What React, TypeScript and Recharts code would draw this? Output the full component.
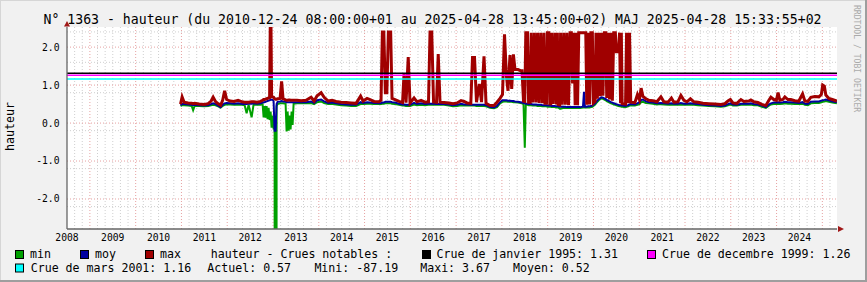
import React from 'react';
import { LineChart, Line, XAxis, YAxis, CartesianGrid, ReferenceLine } from 'recharts';

const FONT = '"DejaVu Sans Mono", "Liberation Mono", monospace';

// decimal years
const dates = [
  2010.980, 2011.015, 2011.059, 2011.146, 2011.223, 2011.255, 2011.288, 2011.386,
  2011.496, 2011.583, 2011.648, 2011.692, 2011.747, 2011.801, 2011.856, 2011.900,
  2011.943, 2011.987, 2012.063, 2012.151, 2012.238, 2012.325, 2012.380, 2012.424,
  2012.467, 2012.533, 2012.576, 2012.653, 2012.729, 2012.773, 2012.795, 2012.817,
  2012.838, 2012.860, 2012.882, 2012.904, 2012.926, 2012.948, 2012.969, 2012.991,
  2013.013, 2013.035, 2013.057, 2013.079, 2013.100, 2013.155, 2013.188, 2013.220,
  2013.275, 2013.297, 2013.319, 2013.341, 2013.362, 2013.384, 2013.406, 2013.428,
  2013.450, 2013.526, 2013.614, 2013.723, 2013.832, 2013.898, 2013.963, 2014.051,
  2014.117, 2014.204, 2014.291, 2014.378, 2014.488, 2014.597, 2014.706, 2014.815,
  2014.913, 2014.967, 2015.055, 2015.120, 2015.208, 2015.317, 2015.360, 2015.389,
  2015.421, 2015.454, 2015.487, 2015.520, 2015.570, 2015.600, 2015.666, 2015.753,
  2015.830, 2015.862, 2015.906, 2015.954, 2015.993, 2016.081, 2016.146, 2016.234,
  2016.321, 2016.397, 2016.430, 2016.467, 2016.507, 2016.572, 2016.609, 2016.648,
  2016.736, 2016.845, 2016.932, 2017.020, 2017.107, 2017.173, 2017.238, 2017.321,
  2017.358, 2017.402, 2017.445, 2017.507, 2017.555, 2017.609, 2017.653, 2017.740,
  2017.828, 2017.893, 2017.959, 2018.013, 2018.057, 2018.100, 2018.133, 2018.177,
  2018.214, 2018.251, 2018.286, 2018.352, 2018.406, 2018.439, 2018.472, 2018.500,
  2018.522, 2018.559, 2018.583, 2018.618, 2018.640, 2018.675, 2018.710, 2018.745,
  2018.779, 2018.814, 2018.849, 2018.884, 2018.919, 2018.941, 2018.974, 2018.993,
  2019.024, 2019.046, 2019.068, 2019.085, 2019.120, 2019.155, 2019.190, 2019.212,
  2019.229, 2019.264, 2019.282, 2019.317, 2019.352, 2019.387, 2019.421, 2019.456,
  2019.491, 2019.517, 2019.544, 2019.574, 2019.600, 2019.627, 2019.653, 2019.679,
  2019.710, 2019.771, 2019.793, 2019.814, 2019.832, 2019.854, 2019.884, 2019.915,
  2019.945, 2019.976, 2019.998, 2020.037, 2020.055, 2020.085, 2020.116, 2020.146,
  2020.177, 2020.207, 2020.238, 2020.269, 2020.290, 2020.321, 2020.352, 2020.382,
  2020.413, 2020.443, 2020.478, 2020.500, 2020.548, 2020.570, 2020.592, 2020.609,
  2020.627, 2020.701, 2020.723, 2020.758, 2020.788, 2020.814,
  2020.906, 2020.961, 2021.004, 2021.041, 2021.081, 2021.146, 2021.212, 2021.299,
  2021.386, 2021.474, 2021.539, 2021.627, 2021.703, 2021.758, 2021.845, 2021.910,
  2021.976, 2022.041, 2022.118, 2022.194, 2022.282, 2022.391, 2022.522, 2022.652,
  2022.784, 2022.871, 2022.937, 2022.991, 2023.046, 2023.133, 2023.221, 2023.286,
  2023.395, 2023.439, 2023.504, 2023.592, 2023.679, 2023.766, 2023.832, 2023.876,
  2023.941, 2023.996, 2024.033, 2024.072, 2024.138, 2024.181, 2024.247, 2024.312,
  2024.400, 2024.487, 2024.568, 2024.618, 2024.683, 2024.749, 2024.836, 2024.924,
  2024.978, 2025.007, 2025.044, 2025.076, 2025.142, 2025.218, 2025.317,
];

const minVals = [
  0.45, 0.47, 0.47, 0.46, 0.45, 0.34, 0.45, 0.45,
  0.44, 0.45, 0.47, 0.48, 0.47, 0.44, 0.41, 0.45,
  0.48, 0.49, 0.49, 0.48, 0.49, 0.48, 0.47, 0.26,
  0.48, 0.15, 0.49, 0.48, 0.48, 0.50, 0.15, 0.45,
  0.14, 0.45, 0.10, 0.40, 0.08, 0.30, -0.12, 0.20,
  -0.14, -0.15, -87.19, 0.45, 0.50, 0.52, 0.52, 0.52,
  0.51, -0.22, 0.30, -0.20, 0.20, -0.17, 0.30, -0.05,
  0.51, 0.52, 0.52, 0.52, 0.53, 0.50, 0.55, 0.57,
  0.53, 0.50, 0.51, 0.49, 0.47, 0.46, 0.45, 0.45,
  0.50, 0.50, 0.51, 0.51, 0.50, 0.50, 0.50, 0.51,
  0.51, 0.52, 0.52, 0.52, 0.52, 0.51, 0.50, 0.48,
  0.46, 0.46, 0.45, 0.45, 0.45, 0.49, 0.47, 0.48,
  0.47, 0.48, 0.48, 0.48, 0.48, 0.48, 0.48, 0.48,
  0.48, 0.46, 0.44, 0.45, 0.47, 0.46, 0.46, 0.46,
  0.46, 0.46, 0.45, 0.45, 0.45, 0.45, 0.44, 0.40,
  0.39, 0.42, 0.52, 0.56, 0.57, 0.57, 0.56, 0.56,
  0.56, 0.55, 0.55, 0.54, 0.53, 0.52, 0.50, -0.65,
  0.48, 0.48, 0.47, 0.47, 0.47, 0.46, 0.46, 0.46,
  0.45, 0.45, 0.45, 0.44, 0.44, 0.44, 0.44, 0.43,
  0.43, 0.43, 0.43, 0.42, 0.42, 0.42, 0.41, 0.41,
  0.41, 0.38, 0.38, 0.39, 0.40, 0.40, 0.40, 0.40,
  0.40, 0.40, 0.40, 0.40, 0.40, 0.40, 0.40, 0.40,
  0.40, 0.41, 0.41, 0.41, 0.41, 0.41, 0.41, 0.41,
  0.42, 0.43, 0.45, 0.49, 0.52, 0.56, 0.60, 0.63,
  0.65, 0.64, 0.62, 0.60, 0.58, 0.56, 0.54, 0.52,
  0.51, 0.49, 0.48, 0.47, 0.45, 0.44, 0.44, 0.43,
  0.43, 0.42, 0.43, 0.44, 0.46, 0.47,
  0.46, 0.48, 0.50, 0.55, 0.56, 0.53, 0.52, 0.51,
  0.49, 0.50, 0.49, 0.48, 0.49, 0.48, 0.48, 0.49,
  0.48, 0.48, 0.49, 0.48, 0.47, 0.46, 0.45, 0.44,
  0.43, 0.44, 0.47, 0.49, 0.46, 0.46, 0.48, 0.48,
  0.48, 0.49, 0.47, 0.47, 0.43, 0.40, 0.46, 0.49,
  0.50, 0.50, 0.51, 0.50, 0.51, 0.52, 0.51, 0.51,
  0.50, 0.50, 0.51, 0.48, 0.47, 0.52, 0.53, 0.53,
  0.55, 0.56, 0.57, 0.58, 0.56, 0.54, 0.52,
];

const moyVals = [
  0.47, 0.50, 0.50, 0.49, 0.48, 0.47, 0.48, 0.47,
  0.46, 0.47, 0.50, 0.52, 0.50, 0.46, 0.42, 0.48,
  0.52, 0.53, 0.52, 0.51, 0.52, 0.50, 0.50, 0.50,
  0.51, 0.51, 0.52, 0.51, 0.52, 0.54, 0.55, 0.55,
  0.56, 0.57, 0.58, 0.59, 0.60, 0.61, 0.62, 0.61,
  0.58, -0.20, -0.20, 0.50, 0.56, 0.57, 0.58, 0.57,
  0.56, 0.55, 0.55, 0.55, 0.55, 0.55, 0.55, 0.55,
  0.55, 0.55, 0.55, 0.55, 0.57, 0.53, 0.60, 0.62,
  0.57, 0.53, 0.54, 0.52, 0.50, 0.49, 0.48, 0.48,
  0.55, 0.53, 0.55, 0.54, 0.53, 0.52, 0.53, 0.54,
  0.54, 0.56, 0.56, 0.56, 0.56, 0.55, 0.54, 0.51,
  0.49, 0.49, 0.48, 0.48, 0.48, 0.53, 0.50, 0.52,
  0.50, 0.51, 0.51, 0.51, 0.51, 0.50, 0.50, 0.50,
  0.50, 0.49, 0.47, 0.48, 0.51, 0.49, 0.49, 0.48,
  0.48, 0.48, 0.48, 0.48, 0.48, 0.48, 0.47, 0.42,
  0.41, 0.45, 0.55, 0.60, 0.60, 0.60, 0.59, 0.59,
  0.58, 0.58, 0.57, 0.56, 0.55, 0.54, 0.53, 0.52,
  0.51, 0.51, 0.50, 0.50, 0.50, 0.49, 0.49, 0.49,
  0.48, 0.48, 0.48, 0.47, 0.47, 0.47, 0.47, 0.46,
  0.46, 0.46, 0.46, 0.45, 0.45, 0.45, 0.44, 0.44,
  0.44, 0.43, 0.43, 0.43, 0.43, 0.43, 0.42, 0.42,
  0.42, 0.42, 0.42, 0.42, 0.42, 0.42, 0.42, 0.42,
  0.42, 0.43, 0.82, 0.43, 0.43, 0.43, 0.44, 0.44,
  0.45, 0.46, 0.48, 0.52, 0.55, 0.59, 0.63, 0.66,
  0.68, 0.67, 0.65, 0.63, 0.61, 0.59, 0.57, 0.55,
  0.54, 0.52, 0.51, 0.50, 0.48, 0.47, 0.47, 0.46,
  0.46, 0.45, 0.46, 0.47, 0.49, 0.50,
  0.49, 0.52, 0.55, 0.61, 0.62, 0.57, 0.55, 0.54,
  0.52, 0.53, 0.52, 0.51, 0.52, 0.51, 0.51, 0.53,
  0.51, 0.51, 0.52, 0.51, 0.50, 0.48, 0.47, 0.46,
  0.45, 0.46, 0.50, 0.52, 0.49, 0.48, 0.51, 0.51,
  0.51, 0.52, 0.50, 0.49, 0.46, 0.42, 0.49, 0.52,
  0.54, 0.54, 0.55, 0.54, 0.55, 0.56, 0.55, 0.55,
  0.54, 0.53, 0.55, 0.51, 0.50, 0.56, 0.57, 0.57,
  0.59, 0.60, 0.61, 0.62, 0.60, 0.57, 0.55,
];

const maxVals = [
  0.50, 0.69, 0.55, 0.53, 0.52, 0.51, 0.52, 0.50,
  0.49, 0.51, 0.58, 0.68, 0.56, 0.51, 0.47, 0.60,
  0.85, 0.62, 0.58, 0.57, 0.60, 0.56, 0.55, 0.55,
  0.55, 0.56, 0.56, 0.55, 0.57, 0.60, 0.62, 0.62,
  0.63, 0.64, 0.65, 0.66, 0.67, 3.67, 0.70, 0.69,
  0.68, 0.64, 0.63, 0.63, 0.64, 0.65, 1.10, 0.64,
  0.61, 0.60, 0.60, 0.61, 0.61, 0.60, 0.60, 0.60,
  0.60, 0.60, 0.59, 0.60, 0.68, 0.58, 0.72, 0.80,
  0.68, 0.58, 0.60, 0.57, 0.55, 0.54, 0.53, 0.52,
  0.71, 0.58, 0.65, 0.62, 0.57, 0.56, 0.60, 2.40,
  2.40, 0.80, 0.80, 2.40, 2.40, 0.65, 0.62, 0.57,
  0.54, 1.30, 0.54, 1.74, 0.53, 0.66, 0.56, 0.60,
  0.55, 0.56, 2.40, 2.40, 0.56, 0.55, 1.82, 0.55,
  0.54, 0.53, 0.51, 0.53, 0.59, 0.57, 0.53, 0.52,
  1.73, 1.73, 0.55, 1.03, 0.55, 1.76, 0.52, 0.46,
  0.46, 0.55, 0.65, 0.75, 2.34, 1.22, 0.85, 1.79,
  0.90, 1.81, 1.41, 1.41, 1.38, 1.38, 0.58, 0.57,
  2.38, 2.38, 0.55, 0.55, 2.38, 0.54, 2.38, 0.54,
  2.38, 0.53, 2.38, 0.52, 2.38, 0.52, 0.52, 2.38,
  2.38, 0.51, 0.51, 2.38, 0.50, 2.38, 0.49, 2.38,
  0.49, 0.48, 2.38, 0.48, 2.38, 0.48, 2.38, 0.47,
  2.38, 2.38, 1.04, 2.38, 0.47, 2.38, 0.47, 2.38,
  2.38, 2.38, 2.38, 2.38, 2.38, 0.48, 2.38, 0.49,
  2.38, 2.38, 0.53, 0.57, 2.38, 0.64, 2.38, 0.71,
  2.38, 0.72, 2.38, 2.38, 0.66, 2.38, 0.62, 2.38,
  0.59, 2.38, 2.38, 1.88, 1.88, 2.38, 0.52, 2.38,
  0.51, 0.50, 2.38, 0.52, 2.38, 0.55,
  0.54, 0.75, 0.62, 0.92, 0.70, 0.64, 0.60, 0.59,
  0.56, 0.69, 0.56, 0.55, 0.66, 0.55, 0.56, 0.73,
  0.60, 0.56, 0.64, 0.56, 0.55, 0.52, 0.51, 0.50,
  0.49, 0.51, 0.58, 0.62, 0.53, 0.52, 0.62, 0.57,
  0.58, 0.61, 0.56, 0.54, 0.49, 0.46, 0.60, 0.68,
  0.62, 0.60, 0.80, 0.60, 0.62, 0.69, 0.62, 0.62,
  0.59, 0.58, 0.77, 0.58, 0.57, 0.68, 0.70, 0.69,
  0.75, 1.00, 0.97, 0.74, 0.65, 0.62, 0.58,
];

const yearLabels = [2008, 2009, 2010, 2011, 2012, 2013, 2014, 2015, 2016, 2017, 2018, 2019, 2020, 2021, 2022, 2023, 2024];
const yTicks = [-2, -1, 0, 1, 2];

const crueNames = ['Crue de janvier 1995', 'Crue de decembre 1999', 'Crue de mars 2001'];
const crueValues = [1.31, 1.26, 1.16];
const crueColors = ['#000000', '#ff00ff', '#00ffff'];

const statLabels = ['Actuel', 'Mini', 'Maxi', 'Moyen'];
const statValues = [0.57, -87.19, 3.67, 0.52];

const X_DOMAIN: [number, number] = [2008.5, 2025.32];
const Y_DOMAIN: [number, number] = [-2.79, 2.53];

const data = dates.map((t, i) => ({ t, min: minVals[i], moy: moyVals[i], max: maxVals[i] }));

// year lines and 2-month lines
const majorX: number[] = [];
const minorX: number[] = [];
for (let y = 2008; y <= 2025; y++) {
  if (y > X_DOMAIN[0] && y < X_DOMAIN[1]) majorX.push(y);
  for (let k = 1; k < 6; k++) {
    const v = y + k / 6;
    if (v > X_DOMAIN[0] && v < X_DOMAIN[1]) minorX.push(v);
  }
}
const minorY: number[] = [];
for (let i = -13; i <= 12; i++) if (i % 5 !== 0) minorY.push(i / 5);

const txt = { fontFamily: FONT, fontSize: 11.6, fill: '#000' };

function Box({ x, y, color }: { x: number; y: number; color: string }) {
  return <rect x={x + 0.5} y={y + 0.5} width={8} height={8} fill={color} stroke="#000" strokeWidth={1} />;
}

export default function App() {
  return (
    <div style={{ position: 'absolute', left: 0, top: 0, width: 867, height: 282, background: '#f1f1f1', overflow: 'hidden' }}>
      <LineChart width={867} height={282} data={data} margin={{ top: 27, right: 30, bottom: 33, left: 0 }}>
        <CartesianGrid fill="#ffffff" stroke="#cfcfcf" strokeDasharray="1 2" verticalValues={minorX} horizontalValues={minorY} />
        <CartesianGrid stroke="#e6a2a2" strokeDasharray="1 2" verticalValues={majorX} horizontalValues={yTicks} />
        <XAxis
          type="number"
          dataKey="t"
          domain={X_DOMAIN}
          allowDataOverflow
          ticks={yearLabels.map((y) => y + 0.5)}
          tickFormatter={(v: number) => String(Math.floor(v))}
          interval={0}
          height={20}
          tickLine={false}
          tickSize={3}
          tickMargin={1.8}
          axisLine={{ stroke: '#666', strokeWidth: 1.3 }}
          tick={{ fontSize: 9.7, fill: '#000', fontFamily: FONT }}
        />
        <YAxis
          type="number"
          domain={Y_DOMAIN}
          allowDataOverflow
          ticks={yTicks}
          width={67}
          tickFormatter={(v: number) => v.toFixed(1)}
          tickLine={false}
          tickSize={5}
          tickMargin={2.5}
          axisLine={{ stroke: '#666', strokeWidth: 1.3 }}
          tick={{ fontSize: 9.7, fill: '#000', fontFamily: FONT }}
        />
        <Line type="linear" dataKey="min" stroke="#00a000" strokeWidth={2} dot={false} activeDot={false} isAnimationActive={false} />
        <Line type="linear" dataKey="moy" stroke="#0000a0" strokeWidth={2} dot={false} activeDot={false} isAnimationActive={false} />
        <Line type="linear" dataKey="max" stroke="#a00000" strokeWidth={3} dot={false} activeDot={false} isAnimationActive={false} />
        {crueValues.map((v, i) => (
          <ReferenceLine key={crueNames[i]} y={v} stroke={crueColors[i]} strokeWidth={1.4} />
        ))}
      </LineChart>

      <svg width={867} height={282} style={{ position: 'absolute', left: 0, top: 0, pointerEvents: 'none' }}>
        {/* frame */}
        <rect x={0} y={0} width={867} height={1} fill="#d6d6d6" />
        <rect x={0} y={0} width={1} height={282} fill="#d6d6d6" />
        <rect x={865} y={0} width={2} height={282} fill="#9e9e9e" />
        <rect x={0} y={280} width={867} height={2} fill="#9e9e9e" />

        {/* axis arrows */}
        <polygon points="64,26.5 70,26.5 67,21" fill="#a01818" />
        <polygon points="838,226 838,232 844,229" fill="#a01818" />

        <text x={432.5} y={24} textAnchor="middle" style={{ fontFamily: FONT, fontSize: 13.2, fill: '#000' }}>
          N° 1363 - hauteur (du 2010-12-24 08:00:00+01 au 2025-04-28 13:45:00+02) MAJ 2025-04-28 15:33:55+02
        </text>

        <text transform="translate(13.5,126.5) rotate(-90)" textAnchor="middle" style={{ fontFamily: FONT, fontSize: 11.6, fill: '#000' }}>
          hauteur
        </text>

        <text transform="translate(853.5,5) rotate(90)" style={{ fontFamily: FONT, fontSize: 8.1, fill: '#aaaaaa' }}>
          RRDTOOL / TOBI OETIKER
        </text>

        {/* legend row 1 */}
        <Box x={15} y={250} color="#00a000" />
        <text x={30} y={258.3} style={txt}>min</text>
        <Box x={80} y={250} color="#0000a0" />
        <text x={95} y={258.3} style={txt}>moy</text>
        <Box x={145} y={250} color="#a00000" />
        <text x={160} y={258.3} style={txt}>max</text>
        <text x={210.7} y={258.3} style={txt}>hauteur - Crues notables :</text>
        <Box x={422} y={250} color={crueColors[0]} />
        <text x={436.5} y={258.3} style={txt}>{`${crueNames[0]}: ${crueValues[0].toFixed(2)}`}</text>
        <Box x={647} y={250} color={crueColors[1]} />
        <text x={662} y={258.3} style={txt}>{`${crueNames[1]}: ${crueValues[1].toFixed(2)}`}</text>

        {/* legend row 2 */}
        <Box x={15} y={263.5} color={crueColors[2]} />
        <text x={30.7} y={272} style={txt}>{`${crueNames[2]}: ${crueValues[2].toFixed(2)}`}</text>
        <text x={207.3} y={272} style={txt}>{`${statLabels[0]}: ${statValues[0].toFixed(2)}`}</text>
        <text x={314.4} y={272} style={txt}>{`${statLabels[1]}: ${statValues[1].toFixed(2)}`}</text>
        <text x={420.2} y={272} style={txt}>{`${statLabels[2]}: ${statValues[2].toFixed(2)}`}</text>
        <text x={513} y={272} style={txt}>{`${statLabels[3]}: ${statValues[3].toFixed(2)}`}</text>
      </svg>
    </div>
  );
}
